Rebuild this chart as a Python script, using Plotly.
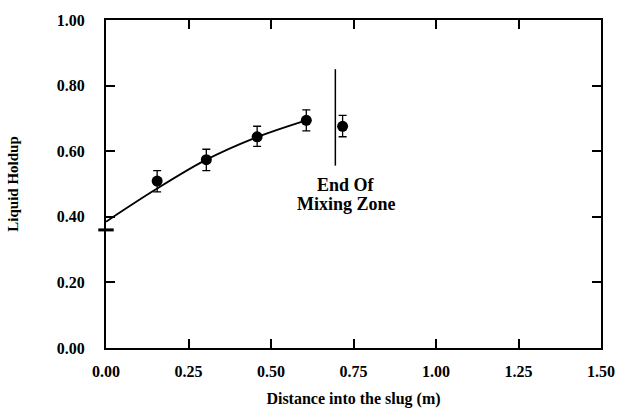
import plotly.graph_objects as go

# measured data
x_pts = [0.155, 0.304, 0.458, 0.607, 0.717]
y_pts = [0.509, 0.574, 0.644, 0.694, 0.676]
err_up = [0.032, 0.032, 0.032, 0.032, 0.033]
err_dn = [0.033, 0.033, 0.029, 0.032, 0.032]

# fitted curve
x_fit = [0.0, 0.15, 0.30, 0.45, 0.607]
y_fit = [0.385, 0.483, 0.572, 0.640, 0.694]

# initial value at x = 0
x_init = [0.0]
y_init = [0.36]

# end of mixing zone marker line
x_mix = [0.695, 0.695]
y_mix = [0.556, 0.85]

xticks = [0, 0.25, 0.5, 0.75, 1.0, 1.25, 1.5]
yticks = [0, 0.2, 0.4, 0.6, 0.8, 1.0]

font_family = "Liberation Serif"

fig = go.Figure()
fig.add_trace(go.Scatter(x=x_fit, y=y_fit, mode="lines", line=dict(color="black", width=1.8, shape="spline"),
                         hoverinfo="skip", showlegend=False))
fig.add_trace(go.Scatter(x=x_pts, y=y_pts, mode="markers",
                         marker=dict(color="black", size=11),
                         error_y=dict(type="data", symmetric=False, array=err_up, arrayminus=err_dn,
                                      color="black", thickness=1.3, width=4),
                         showlegend=False))
fig.add_trace(go.Scatter(x=x_init, y=y_init, mode="markers",
                         marker=dict(symbol="line-ew", size=11, line=dict(color="black", width=3)),
                         cliponaxis=False, showlegend=False))
fig.add_trace(go.Scatter(x=x_mix, y=y_mix, mode="lines", line=dict(color="black", width=1.5),
                         showlegend=False))

fig.add_annotation(x=0.728, y=0.498, text="<b>End Of</b>", showarrow=False,
                   font=dict(family=font_family, size=18, color="black"))
fig.add_annotation(x=0.728, y=0.438, text="<b>Mixing Zone</b>", showarrow=False,
                   font=dict(family=font_family, size=18, color="black"))

axis_common = dict(showline=True, linecolor="black", linewidth=2.2, mirror="ticks", ticks="inside",
                   ticklen=9, tickwidth=1.5, tickcolor="black", showgrid=False, zeroline=False,
                   tickfont=dict(family=font_family, size=16, color="black"))

fig.update_xaxes(range=[0, 1.5], tickvals=xticks, ticktext=["<b>%.2f</b>" % v for v in xticks],
                 ticklabelstandoff=8,
                 title=dict(text="<b>Distance into the slug (m)</b>", font=dict(family=font_family, size=16, color="black"),
                            standoff=14),
                 **axis_common)
fig.update_yaxes(range=[0, 1.0], tickvals=yticks, ticktext=["<b>%.2f</b>" % v for v in yticks],
                 ticklabelstandoff=16,
                 title=dict(text="<b>Liquid Holdup</b>", font=dict(family=font_family, size=15, color="black"),
                            standoff=34),
                 **axis_common)

fig.update_layout(width=627, height=417, margin=dict(l=106, r=15, t=12, b=65),
                  plot_bgcolor="white", paper_bgcolor="white",
                  font=dict(family=font_family, color="black"))

fig.write_html("out.html")
